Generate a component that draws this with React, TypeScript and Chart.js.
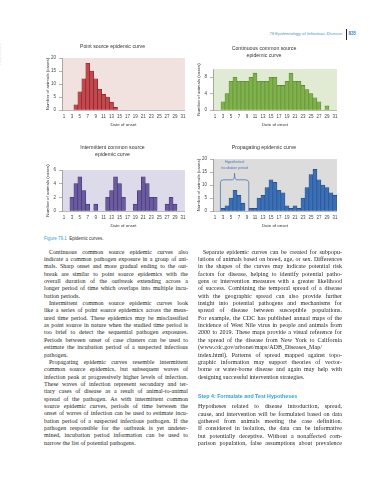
import React, { useEffect, useRef } from "react";
import { Chart, registerables } from "chart.js";

Chart.register(...registerables);

// ---------- data ----------
const DAYS = ["1","2","3","4","5","6","7","8","9","10","11","12","13","14","15","16","17","18","19","20","21","22","23","24","25","26","27","28","29","30","31"];
const X_TICK_LABELS = ["1","3","5","7","9","11","13","15","17","19","21","23","25","27","29","31"];

const POINT_SOURCE = [0,0,0,2,7,12,18,15,12,8,6,5,3,1,0,0,0,0,0,0,0,0,0,0,0,0,0,0,0,0,0];
const CONTINUOUS = [0,0,2,4,7,8,7,7,7,8,9,7,7,7,8,8,6,6,7,9,7,7,6,5,4,3,2,0,1,0,0];
const INTERMITTENT = [0,0,2,4,5,3,1,0,1,0,0,2,3,5,4,2,0,0,1,3,5,4,2,2,0,0,1,2,1,0,0];
const PROPAGATING = [0,0,1,2,5,8,6,3,0,1,1,5,6,9,12,11,8,7,2,1,2,1,5,9,14,16,12,10,9,7,6];

const Y_AXIS_TITLE = "Number of animals (cases)";
const X_AXIS_TITLE = "Date of onset";

// brace annotation (category index units / value units)
const BRACE_FROM = 1.35;
const BRACE_TO = 8.45;
const BRACE_LEVEL = 12;
const BRACE_TIP = 14.5;
const BRACE_TEXT = ["Hypothetical", "incubation period"];
const BRACE_TEXT_Y = [18.8, 16.4];

const SANS = "'Liberation Sans', Arial, sans-serif";
const SERIF = "'Liberation Serif', 'Times New Roman', serif";

const plotBackground = {
  id: "plotBackground",
  beforeDraw(chart: any, _args: any, opts: any) {
    const { ctx, chartArea } = chart;
    if (!chartArea) return;
    ctx.save();
    ctx.fillStyle = opts.color || "#eee";
    ctx.fillRect(chartArea.left, chartArea.top, chartArea.right - chartArea.left, chartArea.bottom - chartArea.top);
    ctx.restore();
  },
};

const braceAnnotation = {
  id: "braceAnnotation",
  afterDatasetsDraw(chart: any, _args: any, opts: any) {
    if (!opts || !opts.enabled) return;
    const { ctx } = chart;
    const x = chart.scales.x;
    const y = chart.scales.y;
    const xl = x.getPixelForValue(BRACE_FROM);
    const xr = x.getPixelForValue(BRACE_TO);
    const yb = y.getPixelForValue(0);
    const yt = y.getPixelForValue(BRACE_LEVEL);
    const ytip = y.getPixelForValue(BRACE_TIP);
    const xm = (xl + xr) / 2;
    const r = 3;
    ctx.save();
    ctx.strokeStyle = "#4a78b5";
    ctx.lineWidth = 0.8;
    ctx.beginPath();
    ctx.moveTo(xl, yb);
    ctx.lineTo(xl, yt + r);
    ctx.quadraticCurveTo(xl, yt, xl + r, yt);
    ctx.lineTo(xm - 2, yt);
    ctx.quadraticCurveTo(xm, yt, xm, ytip);
    ctx.quadraticCurveTo(xm, yt, xm + 2, yt);
    ctx.lineTo(xr - r, yt);
    ctx.quadraticCurveTo(xr, yt, xr, yt + r);
    ctx.lineTo(xr, yb);
    ctx.stroke();
    ctx.fillStyle = "#4a78b5";
    ctx.font = `3.5px ${SANS}`;
    ctx.textAlign = "center";
    ctx.textBaseline = "middle";
    BRACE_TEXT.forEach((t, i) => ctx.fillText(t, xm, y.getPixelForValue(BRACE_TEXT_Y[i])));
    ctx.restore();
  },
};

type ChartProps = {
  left: number; top: number; width: number; height: number;
  title: string | string[];
  titlePad: [number, number];
  values: number[];
  yMax: number; yStep: number;
  fill: string; stroke: string; bg: string;
  brace?: boolean;
};

function EpiChart(p: ChartProps) {
  const ref = useRef<HTMLCanvasElement>(null);
  useEffect(() => {
    const chart = new Chart(ref.current as HTMLCanvasElement, {
      type: "bar",
      data: {
        labels: DAYS,
        datasets: [
          {
            data: p.values,
            backgroundColor: p.fill,
            borderColor: p.stroke,
            borderWidth: 0.6,
            barPercentage: 1,
            categoryPercentage: 1,
          },
        ],
      },
      options: {
        animation: false,
        responsive: false,
        maintainAspectRatio: false,
        devicePixelRatio: 1,
        layout: { padding: { left: 0, right: 3, top: 0, bottom: 0 } },
        plugins: {
          legend: { display: false },
          tooltip: { enabled: false },
          title: {
            display: true,
            text: p.title,
            color: "#333",
            font: { family: SANS, size: 5.2, lineHeight: 1.35, weight: "normal" },
            padding: { top: p.titlePad[0], bottom: p.titlePad[1] },
          },
          plotBackground: { color: p.bg },
          braceAnnotation: { enabled: !!p.brace },
        } as any,
        scales: {
          x: {
            grid: { display: false, drawTicks: false },
            border: { display: true, color: "#777", width: 0.5 },
            ticks: {
              autoSkip: false,
              maxRotation: 0,
              minRotation: 0,
              padding: 4.5,
              color: "#444",
              font: { family: SANS, size: 4.5 },
              callback: (_v: any, i: number) => (X_TICK_LABELS.includes(DAYS[i]) ? DAYS[i] : ""),
            },
            title: {
              display: true,
              text: X_AXIS_TITLE,
              color: "#333",
              font: { family: SANS, size: 4.4, lineHeight: 1.2 },
              padding: { top: 0, bottom: 4.5 },
            },
            afterFit: (s: any) => {
              s.height = 22;
            },
          },
          y: {
            min: 0,
            max: p.yMax,
            ticks: { stepSize: p.yStep, padding: 3, color: "#444", font: { family: SANS, size: 4.5 } },
            grid: { drawOnChartArea: false, drawTicks: true, tickLength: 3, color: "#666", lineWidth: 0.5 },
            border: { display: true, color: "#666", width: 0.5 },
            title: {
              display: true,
              text: Y_AXIS_TITLE,
              color: "#333",
              font: { family: SANS, size: 4.4, lineHeight: 1.2 },
              padding: { top: 7.4, bottom: 0 },
            },
            afterFit: (s: any) => {
              s.width = 24;
            },
          },
        } as any,
      },
      plugins: [plotBackground, braceAnnotation],
    } as any);
    return () => chart.destroy();
  }, []);
  return (
    <canvas
      ref={ref}
      width={p.width}
      height={p.height}
      style={{ position: "absolute", left: p.left, top: p.top, width: p.width, height: p.height }}
    />
  );
}

// ---------- text ----------
type Line = { t: string; indent?: boolean; last?: boolean };

const LEFT_LINES: Line[] = [
  { t: "Continuous common source epidemic curves also", indent: true },
  { t: "indicate a common pathogen exposure in a group of ani-" },
  { t: "mals. Sharp onset and more gradual ending to the out-" },
  { t: "break are similar to point source epidemics with the" },
  { t: "overall duration of the outbreak extending across a" },
  { t: "longer period of time which overlaps into multiple incu-" },
  { t: "bation periods.", last: true },
  { t: "Intermittent common source epidemic curves look", indent: true },
  { t: "like a series of point source epidemics across the meas-" },
  { t: "ured time period. These epidemics may be misclassified" },
  { t: "as point source in nature when the studied time period is" },
  { t: "too brief to detect the sequential pathogen exposures." },
  { t: "Periods between onset of case clusters can be used to" },
  { t: "estimate the incubation period of a suspected infectious" },
  { t: "pathogen.", last: true },
  { t: "Propagating epidemic curves resemble intermittent", indent: true },
  { t: "common source epidemics, but subsequent waves of" },
  { t: "infection peak at progressively higher levels of infection." },
  { t: "These waves of infection represent secondary and ter-" },
  { t: "tiary cases of disease as a result of animal-to-animal" },
  { t: "spread of the pathogen. As with intermittent common" },
  { t: "source epidemic curves, periods of time between the" },
  { t: "onset of waves of infection can be used to estimate incu-" },
  { t: "bation period of a suspected infectious pathogen. If the" },
  { t: "pathogen responsible for the outbreak is yet undeter-" },
  { t: "mined, incubation period information can be used to" },
  { t: "narrow the list of potential pathogens.", last: true },
];

const RIGHT_LINES: Line[] = [
  { t: "Separate epidemic curves can be created for subpopu-", indent: true },
  { t: "lations of animals based on breed, age, or sex. Differences" },
  { t: "in the shapes of the curves may indicate potential risk" },
  { t: "factors for disease, helping to identify potential patho-" },
  { t: "gens or intervention measures with a greater likelihood" },
  { t: "of success. Combining the temporal spread of a disease" },
  { t: "with the geographic spread can also provide further" },
  { t: "insight into potential pathogens and mechanisms for" },
  { t: "spread of disease between susceptible populations." },
  { t: "For example, the CDC has published annual maps of the" },
  { t: "incidence of West Nile virus in people and animals from" },
  { t: "2000 to 2019. These maps provide a visual reference for" },
  { t: "the spread of the disease from New York to California" },
  { t: "(www.cdc.gov/arbonet/maps/ADB_Diseases_Map/", last: true },
  { t: "index.html). Patterns of spread mapped against topo-" },
  { t: "graphic information may support theories of vector-" },
  { t: "borne or water-borne disease and again may help with" },
  { t: "designing successful intervention strategies.", last: true },
];

const RIGHT_LINES_2: Line[] = [
  { t: "Hypotheses related to disease introduction, spread," },
  { t: "cause, and intervention will be formulated based on data" },
  { t: "gathered from animals meeting the case definition." },
  { t: "If considered in isolation, the data can be informative" },
  { t: "but potentially deceptive. Without a nonaffected com-" },
  { t: "parison population, false assumptions about prevalence" },
];

const LH = 7.35;
const FS = 6.05;

function TextColumn({ lines, left, top, width }: { lines: Line[]; left: number; top: number; width: number }) {
  return (
    <>
      {lines.map((ln, i) => {
        const words = ln.t.split(" ");
        const base: React.CSSProperties = {
          position: "absolute",
          left,
          top: top + i * LH - LH / 2,
          width,
          height: LH,
          lineHeight: `${LH}px`,
          fontFamily: SERIF,
          fontSize: FS,
          color: "#231f20",
          whiteSpace: "pre",
          boxSizing: "border-box",
          paddingLeft: ln.indent ? 5 : 0,
        };
        if (ln.last) {
          return (
            <div key={i} style={base}>
              {ln.t}
            </div>
          );
        }
        return (
          <div key={i} style={{ ...base, display: "flex", justifyContent: "space-between", columnGap: 1 }}>
            {words.map((w, j) => (
              <span key={j}>{w}</span>
            ))}
          </div>
        );
      })}
    </>
  );
}

export default function App() {
  return (
    <div
      style={{
        position: "fixed",
        left: 0,
        top: 0,
        width: 375,
        height: 480,
        background: "#fff",
        overflow: "hidden",
      }}
    >
      {/* watermark */}
      <div
        style={{
          position: "absolute",
          left: -12,
          top: 52,
          transform: "rotate(-90deg)",
          fontFamily: SANS,
          fontSize: 4.5,
          color: "#e6e6e6",
          whiteSpace: "nowrap",
        }}
      >
        VetBooks.ir
      </div>

      {/* running head */}
      <div
        style={{
          position: "absolute",
          left: 200,
          width: 142,
          top: 30.5,
          textAlign: "right",
          fontFamily: SANS,
          fontStyle: "italic",
          fontSize: 4.3,
          lineHeight: "5px",
          color: "#3a97d3",
          whiteSpace: "nowrap",
        }}
      >
        79 Epidemiology of Infectious Disease
      </div>
      <div style={{ position: "absolute", left: 345.5, top: 28.5, width: 0.8, height: 11, background: "#222" }} />
      <div
        style={{
          position: "absolute",
          left: 348.5,
          top: 30.5,
          fontFamily: SANS,
          fontWeight: "bold",
          fontSize: 4.5,
          lineHeight: "5px",
          color: "#2f86c8",
        }}
      >
        835
      </div>

      <EpiChart
        left={38} top={36} width={152} height={96}
        title="Point source epidemic curve" titlePad={[7.5, 7.5]}
        values={POINT_SOURCE} yMax={20} yStep={5}
        fill="#c4474d" stroke="#7a2528" bg="#f2e2df"
      />
      <EpiChart
        left={189} top={36} width={153} height={96}
        title={["Continuous common source", "epidemic curve"]} titlePad={[8.6, 10.4]}
        values={CONTINUOUS} yMax={10} yStep={2}
        fill="#80b24c" stroke="#537f2d" bg="#e1ebd3"
      />
      <EpiChart
        left={38} top={135} width={152} height={98}
        title={["Intermittent common source", "epidemic curve"]} titlePad={[9.3, 11.7]}
        values={INTERMITTENT} yMax={6} yStep={1}
        fill="#6b5aa0" stroke="#3e3070" bg="#dddbea"
      />
      <EpiChart
        left={189} top={135} width={153} height={98}
        title="Propagating epidemic curve" titlePad={[9.2, 7.8]}
        values={PROPAGATING} yMax={20} yStep={5}
        fill="#3b6fb6" stroke="#1f4a84" bg="#dcdcdc" brace
      />

      {/* caption */}
      <div
        style={{
          position: "absolute",
          left: 44,
          top: 235.5,
          fontFamily: SANS,
          fontSize: 4.5,
          lineHeight: "5px",
          whiteSpace: "pre",
          color: "#333",
        }}
      >
        <span style={{ color: "#2aa3dc" }}>Figure 79.1</span>
        {"  Epidemic curves."}
      </div>

      <TextColumn lines={LEFT_LINES} left={44} top={252.3} width={144} />
      <TextColumn lines={RIGHT_LINES} left={198} top={252.3} width={144} />

      <div
        style={{
          position: "absolute",
          left: 198,
          top: 396 - 3.5,
          height: 7,
          lineHeight: "7px",
          fontFamily: SANS,
          fontWeight: "bold",
          fontSize: 5.3,
          color: "#2aa3dc",
          whiteSpace: "nowrap",
        }}
      >
        Step 4: Formulate and Test Hypotheses
      </div>

      <TextColumn lines={RIGHT_LINES_2} left={198} top={406.9} width={144} />
    </div>
  );
}
